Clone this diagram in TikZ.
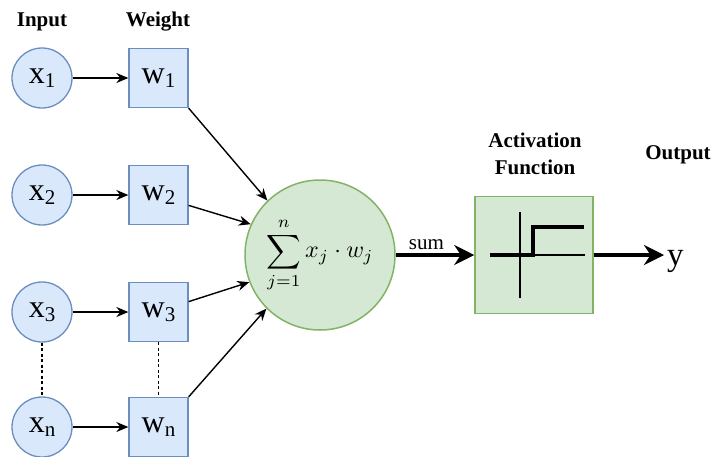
\documentclass[tikz,border=0pt]{standalone}
\usepackage{fontspec}
\setmainfont{Liberation Serif}
\usetikzlibrary{arrows.meta}
\definecolor{bfill}{HTML}{DAE8FC}
\definecolor{bdraw}{HTML}{6C8EBF}
\definecolor{gfill}{HTML}{D5E8D4}
\definecolor{gdraw}{HTML}{82B366}
\newcommand\sbs[1]{\raisebox{-4pt}{\fontsize{21}{21}\selectfont #1}}
\tikzset{
  inp/.style={circle, draw=bdraw, fill=bfill, line width=1.3pt, minimum size=60pt, inner sep=0pt, font=\fontsize{32}{32}\selectfont},
  wt/.style={rectangle, draw=bdraw, fill=bfill, line width=1.3pt, minimum width=59pt, minimum height=59pt, inner sep=0pt, font=\fontsize{32}{32}\selectfont},
  lbl/.style={font=\bfseries\fontsize{21}{21}\selectfont, inner sep=0pt},
  arr/.style={line width=1.4pt, -{Stealth[length=12pt,width=10pt]}},
  bigarr/.style={line width=3.5pt, -{Stealth[length=20pt,width=20pt]}},
  dots/.style={line width=1.1pt, dash pattern=on 3pt off 2.5pt},
}
\begin{document}
\begin{tikzpicture}[x=1pt,y=-1pt]
\useasboundingbox (0,0) rectangle (719,456);
% labels
\node[lbl] (lin) at (42,22) {Input};
\node[lbl] (lwt) at (158,22) {Weight};
\node[lbl] (lact) at (535,140) {Activation};
\node[lbl] (lfun) at (535,167) {Function};
\node[lbl] (lout) at (678,155) {Output};
% inputs
\node[inp] (x1) at (42,78) {x\sbs{1}};
\node[inp] (x2) at (42,195) {x\sbs{2}};
\node[inp] (x3) at (42,312) {x\sbs{3}};
\node[inp] (xn) at (42,427) {x\sbs{n}};
% weights
\node[wt] (w1) at (158.5,78) {w\sbs{1}};
\node[wt] (w2) at (158.5,195) {w\sbs{2}};
\node[wt] (w3) at (158.5,312) {w\sbs{3}};
\node[wt] (wn) at (158.5,427) {w\sbs{n}};
% sum circle with formula
\node[circle, draw=gdraw, fill=gfill, line width=1.5pt, minimum size=150pt, inner sep=0pt] (S) at (320,255)
      {\scalebox{2.4}{$\displaystyle\sum_{j=1}^{n} x_j\cdot w_j$}};
% activation box
\node[rectangle, draw=gdraw, fill=gfill, line width=1.5pt, minimum width=118pt, minimum height=117pt, inner sep=0pt] (A) at (534,255) {};
% step function
\draw[line width=1.3pt] (520,212) -- (520,298);
\draw[line width=1.3pt] (490,255) -- (585,255);
\draw[line width=3.5pt] (490,255) -- (533,255) -- (533,227) -- (584,227);
% output
\node[anchor=west, inner sep=0pt, font=\fontsize{33}{33}\selectfont] (y) at (667,261) {y};
% connectors
\draw[arr] (x1) -- (w1);
\draw[arr] (x2) -- (w2);
\draw[arr] (x3) -- (w3);
\draw[arr] (xn) -- (wn);
\draw[dots] (x3) -- (xn);
\draw[dots] (w3) -- (wn);
\draw[arr] (w1.south east) -- (S.134);
\draw[arr] (w2.-19) -- (S.156);
\draw[arr] (w3.19) -- (S.201);
\draw[arr] (wn.north east) -- (S.225);
\draw[bigarr] (S.east) -- node[pos=0.39, above=4pt, font=\fontsize{21}{21}\selectfont, inner sep=0pt] (sumlbl) {sum} (A.west);
\draw[bigarr] (A.east) -- ([xshift=-3pt]A.east -| y.west);
\end{tikzpicture}
\end{document}
